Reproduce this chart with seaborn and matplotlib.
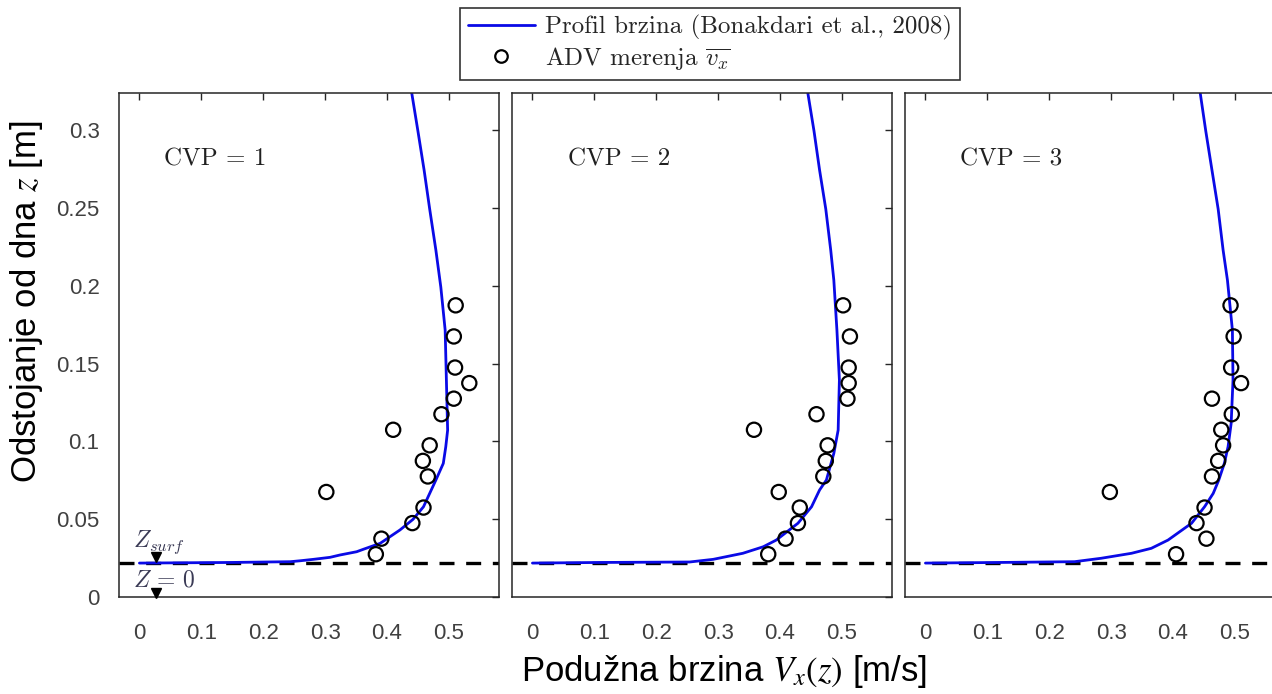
import matplotlib
matplotlib.use("Agg")
import matplotlib.pyplot as plt
import seaborn as sns
import pandas as pd
from matplotlib.font_manager import FontProperties
from matplotlib.lines import Line2D
from matplotlib.ticker import FuncFormatter

# ---- data -------------------------------------------------------------
cvp_ids = [1, 2, 3]
cvp_label_x = [0.039, 0.057, 0.056]

# ADV measurement heights above the bed [m]
z_meas = [0.1875, 0.1675, 0.1475, 0.1375, 0.1275, 0.1175, 0.1075, 0.0975,
          0.0875, 0.0775, 0.0675, 0.0575, 0.0475, 0.0375, 0.0275]
# mean longitudinal velocity measured by ADV [m/s]
v_meas_1 = [0.511, 0.508, 0.510, 0.533, 0.508, 0.488, 0.410, 0.469,
            0.458, 0.466, 0.302, 0.459, 0.441, 0.391, 0.382]
v_meas_2 = [0.502, 0.513, 0.511, 0.511, 0.509, 0.459, 0.358, 0.477,
            0.474, 0.470, 0.398, 0.432, 0.429, 0.409, 0.381]
v_meas_3 = [0.493, 0.498, 0.494, 0.510, 0.463, 0.495, 0.478, 0.481,
            0.473, 0.463, 0.298, 0.451, 0.438, 0.454, 0.405]

# velocity profile (Bonakdari et al., 2008)
z_prof_1 = [0.0218, 0.0222, 0.0227, 0.0233, 0.0242, 0.0255, 0.0270, 0.0291,
            0.0307, 0.0345, 0.0431, 0.0499, 0.0580, 0.0666, 0.0752, 0.0859,
            0.0966, 0.1073, 0.1395, 0.1716, 0.1992, 0.2230, 0.2494, 0.2744,
            0.2995, 0.3240]
v_prof_1 = [0.000, 0.147, 0.244, 0.260, 0.281, 0.308, 0.324, 0.351,
            0.362, 0.389, 0.421, 0.442, 0.459, 0.469, 0.479, 0.491,
            0.495, 0.498, 0.496, 0.494, 0.487, 0.479, 0.469, 0.460,
            0.450, 0.440]
z_prof_2 = [0.0218, 0.0222, 0.0225, 0.0242, 0.0281, 0.0323, 0.0366, 0.0474,
            0.0580, 0.0688, 0.0752, 0.0923, 0.1009, 0.1073, 0.1395, 0.1716,
            0.2037, 0.2230, 0.2494, 0.2744, 0.2995, 0.3240]
v_prof_2 = [0.000, 0.108, 0.254, 0.292, 0.340, 0.373, 0.394, 0.429,
            0.451, 0.464, 0.475, 0.487, 0.491, 0.494, 0.496, 0.492,
            0.487, 0.482, 0.474, 0.464, 0.455, 0.445]
z_prof_3 = [0.0218, 0.0222, 0.0227, 0.0249, 0.0281, 0.0313, 0.0366, 0.0474,
            0.0580, 0.0666, 0.0752, 0.0859, 0.0966, 0.1116, 0.1395, 0.1716,
            0.2037, 0.2230, 0.2494, 0.2744, 0.2995, 0.3240]
v_prof_3 = [0.000, 0.118, 0.241, 0.284, 0.333, 0.365, 0.392, 0.430,
            0.451, 0.465, 0.474, 0.483, 0.489, 0.494, 0.497, 0.496,
            0.488, 0.481, 0.473, 0.463, 0.453, 0.444]

z_surf = 0.0218

x_ticks = [0, 0.1, 0.2, 0.3, 0.4, 0.5]
y_ticks = [0, 0.05, 0.1, 0.15, 0.2, 0.25, 0.3]

meas = pd.DataFrame({
    "cvp": sum([[c] * len(z_meas) for c in cvp_ids], []),
    "z": z_meas * 3,
    "v": v_meas_1 + v_meas_2 + v_meas_3,
})
prof = pd.DataFrame({
    "cvp": [1] * len(z_prof_1) + [2] * len(z_prof_2) + [3] * len(z_prof_3),
    "z": z_prof_1 + z_prof_2 + z_prof_3,
    "v": v_prof_1 + v_prof_2 + v_prof_3,
})

# ---- style ------------------------------------------------------------
sns.set_style("white")
plt.rcParams["font.family"] = ["Liberation Sans", "DejaVu Sans"]
plt.rcParams["mathtext.fontset"] = "cm"

axis_col = "#262626"
tick_col = "#404040"
blue = "#0a0ae6"

fig = plt.figure(figsize=(12.72, 6.94), dpi=100)

left_px = [119, 512, 905]
W, H = 1272.0, 694.0
ax_w = 380 / W
ax_b = 1 - 597 / H
ax_h = (597 - 93) / H

fmt = FuncFormatter(lambda v, p: f"{v:g}")
serif_math = dict(math_fontfamily="cm")

for i, cvp in enumerate(cvp_ids):
    ax = fig.add_axes([left_px[i] / W, ax_b, ax_w, ax_h])
    ax.set_facecolor("white")

    # water-surface reference line
    ax.axhline(z_surf, color="black", lw=2.4, ls=(0, (4.5, 3.5)), zorder=1)

    sns.lineplot(data=prof[prof.cvp == cvp], x="v", y="z", sort=False,
                 estimator=None, color=blue, lw=2.0, ax=ax, zorder=2)
    sns.scatterplot(data=meas[meas.cvp == cvp], x="v", y="z", ax=ax,
                    marker="o", s=105, facecolor="none", edgecolor="black",
                    linewidth=1.6, zorder=3)

    ax.set_xlim(-0.033, 0.581)
    ax.set_ylim(0, 0.324)
    ax.set_xticks(x_ticks)
    ax.set_yticks(y_ticks)
    ax.xaxis.set_major_formatter(fmt)
    ax.yaxis.set_major_formatter(fmt)
    ax.tick_params(direction="in", top=True, right=True, length=5, width=1,
                   color=axis_col, labelcolor=tick_col, labelsize=16)
    ax.tick_params(axis="x", pad=19)
    ax.tick_params(axis="y", pad=14)
    if i > 0:
        ax.tick_params(labelleft=False)
    ax.set_xlabel("")
    ax.set_ylabel("")
    for sp in ax.spines.values():
        sp.set_color(axis_col)
        sp.set_linewidth(1.1)

    ax.text(cvp_label_x[i], 0.281, f"CVP = {cvp}", fontfamily="cmr10",
            fontsize=18, va="center", ha="left", color="#202020")

    if i == 0:
        ax.plot([0.026], [0.0255], marker="v", color="black", ms=6.5,
                ls="none", zorder=4)
        ax.plot([0.026], [0.0024], marker="v", color="black", ms=6.5,
                ls="none", zorder=4, clip_on=False)
        ax.text(-0.0097, 0.032, r"$Z_{surf}$", fontsize=17, color="#3a3a55",
                ha="left", va="baseline", **serif_math)
        ax.text(-0.0097, 0.0066, r"$Z\,=\,0$", fontsize=17, color="#3a3a55",
                ha="left", va="baseline", **serif_math)

# ---- labels -----------------------------------------------------------
fig.text(0.569, 0.019, r"Podužna brzina $V_x(z)$ [m/s]", fontsize=25,
         ha="center", va="baseline", color="black", math_fontfamily="stix")
fig.text(0.021, 0.566, r"Odstojanje od dna $z$ [m]", fontsize=25,
         rotation=90, ha="center", va="center", color="black",
         math_fontfamily="stix")

# ---- legend -----------------------------------------------------------
handles = [
    Line2D([], [], color=blue, lw=2.0),
    Line2D([], [], marker="o", ls="none", ms=9, mfc="none", mec="black",
           mew=1.6),
]
labels = [
    "Profil brzina (Bonakdari et al., 2008)",
    r"ADV merenja $\overline{v_x}$",
]
leg = fig.legend(handles, labels, loc="upper center",
                 bbox_to_anchor=(0.558, 0.989), borderaxespad=0, ncol=1,
                 frameon=True, fancybox=False, edgecolor="#333333",
                 framealpha=1, handlelength=2.7, handletextpad=0.4,
                 borderpad=0.3, labelspacing=0.2,
                 prop=FontProperties(family="cmr10", size=18,
                                     math_fontfamily="cm"))
leg.get_frame().set_linewidth(1.2)

fig.savefig("out.png", dpi=100)
